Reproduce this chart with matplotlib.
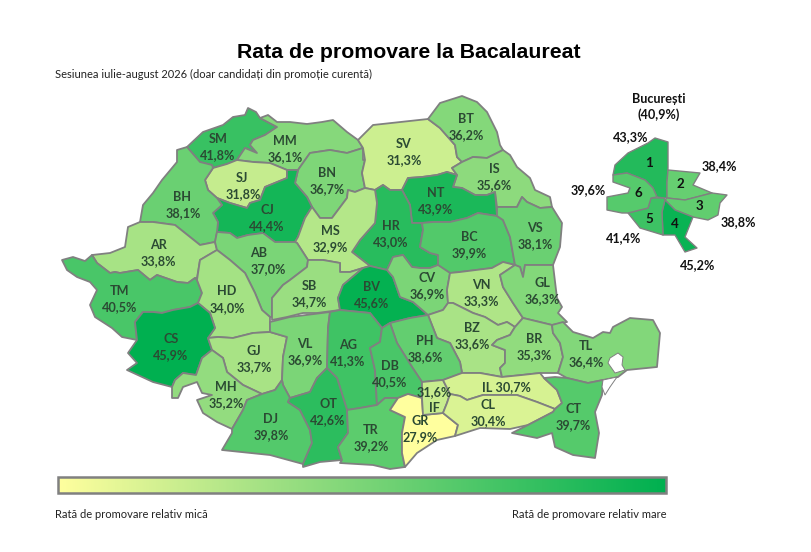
import matplotlib
matplotlib.use("Agg")
import matplotlib.pyplot as plt
import numpy as np
from matplotlib.colors import LinearSegmentedColormap, Normalize
from matplotlib.patches import Polygon, Rectangle

TITLE = "Rata de promovare la Bacalaureat"
SUBTITLE = "Sesiunea iulie-august 2026 (doar candidați din promoție curentă)"
LOW_LABEL = "Rată de promovare relativ mică"
HIGH_LABEL = "Rată de promovare relativ mare"

counties = ["SM","MM","BN","SV","BT","IS","NT","HR","BC","VS","SJ","CJ","BH","AR","MS","AB","TM","HD","SB",
            "BV","CV","VN","GL","BZ","BR","TL","CS","GJ","VL","AG","PH","DB","MH","DJ","OT","TR","GR","IF","IL","CL","CT"]
county_rates = [41.8,36.1,36.7,31.3,36.2,35.6,43.9,43.0,39.9,38.1,31.8,44.4,38.1,33.8,32.9,37.0,40.5,34.0,34.7,
                45.6,36.9,33.3,36.3,33.6,35.3,36.4,45.9,33.7,36.9,41.3,38.6,40.5,35.2,39.8,42.6,39.2,27.9,31.6,30.7,30.4,39.7]

sectors = ["1","2","3","4","5","6"]
sector_rates = [43.3,38.4,38.8,45.2,41.4,39.6]
bucharest_rate = 40.9

# County outlines (there is no geodata offline)
shapes = {
"SM":[(187,147),(203,132),(223,125),(233,117),(245,115),(248,108),(256,112),(260,118),(277,127),(265,135),(253,140),(250,145),(257,153),(245,148),(237,160),(227,164),(213,168),(212,165),(200,162)],
"MM":[(268,115),(277,122),(290,122),(307,124),(322,122),(333,120),(347,132),(358,140),(363,148),(347,153),(330,150),(310,153),(298,170),(287,170),(270,163),(253,162),(237,160),(245,148),(257,153),(250,145),(253,140),(265,135),(277,127),(260,118)],
"BN":[(310,153),(330,150),(347,153),(363,148),(363,160),(365,160),(362,173),(365,188),(355,192),(348,190),(347,198),(332,218),(320,218),(312,207),(307,197),(295,183),(298,170)],
"SV":[(358,140),(373,125),(428,119),(440,128),(455,145),(457,157),(462,162),(452,168),(457,175),(447,172),(437,175),(422,177),(408,178),(402,190),(390,190),(383,185),(375,190),(365,188),(362,173),(365,160),(363,148)],
"BT":[(428,119),(440,103),(462,96),(477,102),(487,112),(497,132),(500,145),(503,150),(487,158),(473,157),(462,162),(457,157),(455,145),(440,128)],
"IS":[(462,162),(473,157),(487,158),(503,150),(510,155),(517,167),(530,178),(535,190),(550,197),(552,207),(540,208),(527,202),(522,197),(517,207),(497,207),(495,192),(487,195),(475,195),(462,188),(453,187),(457,175),(452,168)],
"NT":[(408,178),(422,177),(437,175),(447,172),(457,175),(453,187),(462,188),(475,195),(487,195),(495,192),(497,216),(478,213),(467,218),(450,222),(433,222),(422,223),(412,223),(410,205),(402,190)],
"HR":[(375,190),(383,185),(390,190),(402,190),(410,205),(412,223),(422,223),(423,230),(420,247),(430,253),(438,255),(438,265),(430,268),(420,268),(412,267),(403,255),(393,257),(387,270),(370,266),(352,252),(360,240),(375,223),(377,203)],
"BC":[(422,223),(433,222),(450,222),(467,218),(478,213),(497,216),(503,220),(510,237),(515,265),(503,262),(492,268),(460,272),(450,273),(438,265),(438,255),(430,253),(420,247),(423,230)],
"VS":[(497,207),(517,207),(522,197),(527,202),(540,208),(552,207),(562,223),(560,247),(553,265),(525,265),(523,277),(520,267),(515,265),(510,237),(503,220),(497,216)],
"SJ":[(205,180),(213,168),(227,164),(237,160),(253,162),(270,163),(287,170),(287,178),(265,187),(260,200),(250,203),(247,208),(230,203),(217,198),(208,190)],
"CJ":[(287,170),(298,170),(295,183),(307,197),(312,207),(305,218),(298,237),(295,242),(275,242),(263,233),(248,235),(237,238),(230,233),(217,232),(218,222),(213,213),(222,205),(217,198),(230,203),(247,208),(250,203),(260,200),(265,187),(287,178)],
"BH":[(187,147),(200,162),(212,165),(213,168),(205,180),(208,190),(217,198),(222,205),(213,213),(218,222),(217,232),(215,242),(200,245),(185,233),(175,225),(153,222),(140,222),(143,205),(153,193),(162,180),(177,162),(177,150)],
"AR":[(140,222),(153,222),(175,225),(185,233),(200,245),(215,242),(217,250),(200,260),(197,278),(195,278),(188,283),(177,282),(157,275),(150,280),(138,270),(120,273),(115,272),(110,273),(97,263),(92,255),(110,253),(125,247),(128,227)],
"MS":[(312,207),(320,218),(332,218),(347,198),(348,190),(355,192),(365,188),(375,190),(377,203),(375,223),(360,240),(352,252),(370,266),(363,268),(350,272),(340,272),(340,263),(323,260),(308,260),(297,243),(295,242),(298,237),(305,218)],
"AB":[(217,232),(230,233),(237,238),(248,235),(263,233),(275,242),(295,242),(297,243),(308,260),(307,267),(290,280),(283,285),(272,298),(272,317),(270,317),(262,310),(255,293),(245,273),(230,260),(217,250),(215,242)],
"TM":[(62,260),(73,257),(85,261),(92,255),(97,263),(110,273),(115,272),(120,273),(138,270),(150,280),(157,275),(177,282),(188,283),(195,278),(197,280),(202,293),(198,303),(190,307),(173,310),(162,313),(153,312),(143,312),(135,322),(137,340),(122,337),(112,328),(95,317),(90,305),(97,290),(90,282),(77,277),(67,270)],
"HD":[(200,260),(217,250),(230,260),(245,273),(255,293),(262,310),(270,317),(270,332),(253,333),(233,338),(218,337),(208,338),(215,328),(210,313),(198,303),(202,293),(197,280)],
"SB":[(308,260),(323,260),(340,263),(340,272),(350,272),(363,268),(343,285),(338,298),(340,310),(317,313),(303,313),(287,317),(272,320),(272,298),(283,285),(290,280),(307,267)],
"BV":[(363,268),(370,266),(387,270),(393,277),(400,297),(413,302),(428,315),(410,318),(390,323),(382,328),(370,313),(340,310),(338,298),(343,285)],
"CV":[(387,270),(393,257),(403,255),(412,267),(420,268),(430,268),(438,265),(450,273),(447,290),(448,303),(443,310),(428,315),(413,302),(400,297),(393,277)],
"VN":[(450,273),(460,272),(492,268),(503,262),(515,265),(500,275),(503,287),(513,303),(523,318),(515,327),(507,322),(498,325),(485,317),(473,313),(453,303),(448,303),(447,290)],
"GL":[(515,265),(520,267),(523,277),(525,265),(553,265),(557,298),(562,307),(558,313),(567,322),(552,325),(523,318),(513,303),(503,287),(500,275)],
"BZ":[(428,315),(443,310),(448,303),(453,303),(473,313),(485,317),(498,325),(507,322),(515,327),(510,335),(497,340),(492,345),(505,350),(505,363),(500,368),(502,377),(480,373),(462,373),(460,362),(450,343),(437,338)],
"BR":[(523,318),(552,325),(553,333),(560,343),(563,357),(558,373),(540,373),(522,375),(502,377),(500,368),(505,363),(505,350),(492,345),(497,340),(510,335),(515,327)],
"TL":[(552,325),(563,322),(573,332),(593,338),(603,332),(610,333),(613,327),(630,318),(653,320),(660,333),(657,367),(627,370),(618,377),(603,380),(588,383),(567,378),(558,373),(563,357),(560,343),(553,333)],
"CS":[(143,312),(153,312),(162,313),(173,310),(190,307),(198,303),(210,313),(215,328),(208,338),(212,350),(202,358),(196,375),(183,373),(175,380),(172,387),(153,382),(127,370),(137,363),(128,353),(137,340),(135,322)],
"GJ":[(208,338),(218,337),(233,338),(253,333),(270,332),(287,337),(283,357),(282,380),(275,390),(262,394),(243,385),(227,372),(223,358),(212,350)],
"VL":[(270,322),(290,317),(330,312),(328,328),(327,368),(317,378),(310,392),(290,398),(283,385),(282,380),(283,357),(287,337),(270,332)],
"AG":[(330,312),(340,310),(370,313),(382,328),(380,342),(370,348),(375,370),(377,405),(360,408),(347,410),(337,378),(327,368),(328,328)],
"PH":[(390,323),(410,318),(428,315),(437,338),(450,343),(460,362),(462,373),(443,380),(422,382),(412,367),(397,343)],
"DB":[(382,328),(390,323),(397,343),(412,367),(422,382),(422,398),(408,394),(398,398),(385,398),(377,405),(375,370),(370,348),(380,342)],
"MH":[(212,350),(223,358),(227,372),(243,385),(262,394),(247,400),(243,410),(232,429),(217,422),(203,413),(197,400),(212,395),(202,393),(197,382),(183,387),(178,398),(172,398),(172,387),(175,380),(183,373),(196,375),(202,358)],
"DJ":[(262,394),(275,390),(282,380),(283,385),(290,398),(288,402),(300,410),(310,430),(312,443),(303,464),(270,455),(222,450),(232,433),(232,429),(243,410),(247,400)],
"OT":[(327,368),(337,378),(347,410),(348,433),(338,447),(342,460),(320,462),(303,467),(303,464),(312,443),(310,430),(300,410),(288,402),(290,398),(310,392),(317,378)],
"TR":[(347,410),(360,408),(377,405),(385,398),(398,398),(390,410),(405,417),(402,433),(402,453),(405,467),(390,469),(373,465),(340,463),(342,460),(338,447),(348,433)],
"GR":[(390,410),(398,398),(408,394),(422,398),(423,415),(443,413),(458,425),(455,436),(437,440),(417,453),(405,467),(402,453),(402,433),(405,417)],
"IF":[(422,382),(443,380),(450,394),(447,403),(443,413),(423,415),(422,398)],
"IL":[(443,380),(462,373),(480,373),(502,377),(522,375),(540,373),(544,378),(557,390),(562,403),(555,409),(537,402),(517,395),(483,395),(467,400),(460,396),(450,394)],
"CL":[(450,394),(460,396),(467,400),(483,395),(517,395),(537,402),(555,409),(553,412),(528,425),(510,429),(480,428),(455,436),(458,425),(443,413),(447,403)],
"CT":[(544,378),(555,377),(567,378),(588,383),(603,380),(602,395),(595,412),(599,433),(595,458),(573,455),(555,447),(552,433),(537,438),(512,433),(528,425),(553,412),(555,409),(562,403),(557,390)],
}
lakes = [
[(610,358),(618,353),(623,357),(622,365),(625,370),(615,373),(608,363)],
[(603,380),(617,377),(610,387),(605,395),(602,387)],
]
sector_shapes = {
"1":[(615,165),(628,153),(648,143),(655,138),(668,142),(668,168),(667,182),(667,198),(664,198),(657,197),(653,188),(645,180),(627,173),(613,175)],
"2":[(668,170),(700,173),(693,185),(712,193),(685,200),(667,198),(667,182)],
"3":[(667,198),(685,200),(712,193),(727,195),(720,203),(718,215),(708,220),(693,217),(675,210),(665,200)],
"4":[(665,200),(675,210),(693,217),(685,237),(697,248),(685,252),(675,235),(663,235),(662,212)],
"5":[(651,198),(664,198),(665,200),(662,212),(663,235),(640,228),(628,213),(648,208)],
"6":[(613,175),(627,173),(645,180),(653,188),(657,197),(651,198),(648,208),(628,213),(622,213),(607,210),(607,197),(628,193),(630,188),(613,182)],
}

code_pos = {"SM":(218,139),"MM":(285,141),"BN":(327,173),"SV":(404,144),"BT":(466,119),"IS":(494,169),"NT":(436,193),"HR":(391,226),
"BC":(469,237),"VS":(535,228),"SJ":(242,178),"CJ":(267,210),"BH":(182,197),"AR":(158,245),"MS":(330,231),"AB":(259,253),"TM":(120,291),
"HD":(227,291),"SB":(309,286),"BV":(372,287),"CV":(427,278),"VN":(481,285),"GL":(542,283),"BZ":(472,328),"BR":(534,339),"TL":(586,346),
"CS":(171,339),"GJ":(254,351),"VL":(305,344),"AG":(348,345),"PH":(425,341),"DB":(390,366),"MH":(226,387),"DJ":(271,419),"OT":(328,404),
"TR":(371,430),"GR":(420,421),"IF":(434,408),"CL":(488,405),"CT":(573,409)}
value_pos = {"SM":(218,155),"MM":(285,157),"BN":(327,189),"SV":(404,160),"BT":(466,135),"IS":(494,185),"NT":(436,209),"HR":(391,242),
"BC":(469,253),"VS":(535,244),"SJ":(243,194),"CJ":(267,226),"BH":(183,213),"AR":(158,261),"MS":(330,247),"AB":(268,269),"TM":(120,307),
"HD":(227,308),"SB":(309,302),"BV":(372,303),"CV":(427,294),"VN":(481,301),"GL":(542,299),"BZ":(472,344),"BR":(534,355),"TL":(586,362),
"CS":(171,355),"GJ":(254,367),"VL":(305,360),"AG":(348,361),"PH":(425,357),"DB":(390,382),"MH":(226,403),"DJ":(271,435),"OT":(328,420),
"TR":(371,446),"GR":(420,437),"IF":(434,392),"CL":(488,421),"CT":(573,425)}
sector_value_pos = {"1":(631,137),"2":(719,166),"3":(738,222),"4":(698,265),"5":(624,238),"6":(588,190)}
sector_num_pos = {"1":(649,163),"2":(680,184),"3":(699,206),"4":(675,224),"5":(649,219),"6":(638,193)}

LOW, HIGH, MID = 27.9, 45.9, 34.5
cmap = LinearSegmentedColormap.from_list("rate", [(0,"#FFFF9E"),((MID-LOW)/(HIGH-LOW),"#9CDF82"),(1,"#00B050")])
norm = Normalize(LOW, HIGH)

def pct(v):
    return f"{v:.1f}".replace(".", ",") + "%"

plt.rcParams['font.family'] = ['Lato', 'DejaVu Sans']
fig = plt.figure(figsize=(8.11, 5.52), dpi=100, facecolor="white")
ax = fig.add_axes([0, 0, 1, 1])
ax.set_xlim(0, 811); ax.set_ylim(552, 0); ax.axis("off")

EDGE = "#808080"
rate_of = dict(zip(counties, county_rates))
for c in counties:
    ax.add_patch(Polygon(shapes[c], closed=True, facecolor=cmap(norm(rate_of[c])), edgecolor=EDGE, linewidth=1.3, joinstyle="round", zorder=2))
for lk in lakes:
    ax.add_patch(Polygon(lk, closed=True, facecolor="white", edgecolor=EDGE, linewidth=0.7, zorder=3))
sector_rate_of = dict(zip(sectors, sector_rates))
for s in sectors:
    ax.add_patch(Polygon(sector_shapes[s], closed=True, facecolor=cmap(norm(sector_rate_of[s])), edgecolor=EDGE, linewidth=1.0, joinstyle="round", zorder=2))

INK = "#2B4A33"
kw = dict(ha="center", va="center", fontsize=9.1, fontweight="bold", color=INK, zorder=5)
for c in counties:
    if c == "IL":
        ax.text(506, 387, f"IL {pct(rate_of[c])}", **kw)
        continue
    ax.text(*code_pos[c], c, **kw)
    ax.text(*value_pos[c], pct(rate_of[c]), **kw)

bk = dict(ha="center", va="center", fontsize=9.1, fontweight="bold", color="#111111", zorder=5)
ax.text(659, 99, "București", **bk)
ax.text(659, 115, f"({pct(bucharest_rate)})", **bk)
for s in sectors:
    ax.text(*sector_value_pos[s], pct(sector_rate_of[s]), **bk)
    ax.text(*sector_num_pos[s], s, **{**bk, "fontsize": 9.6})

ax.text(409, 53, TITLE, ha="center", va="center", fontsize=15.3, fontweight="bold", family="Liberation Sans", color="black")
ax.text(55, 74, SUBTITLE, ha="left", va="center", fontsize=8.0, color="#222222")
ax.text(55, 514, LOW_LABEL, ha="left", va="center", fontsize=8.0, color="#222222")
ax.text(667, 514, HIGH_LABEL, ha="right", va="center", fontsize=8.0, color="#222222")

grad = np.linspace(LOW, HIGH, 256).reshape(1, -1)
ax.imshow(grad, extent=(58, 666, 493, 477), cmap=cmap, norm=norm, aspect="auto", zorder=2)
ax.add_patch(Rectangle((58, 477), 608, 16, fill=False, edgecolor=EDGE, linewidth=1.8, zorder=3))
ax.set_xlim(0, 811); ax.set_ylim(552, 0)

fig.savefig("out.png", dpi=100)
